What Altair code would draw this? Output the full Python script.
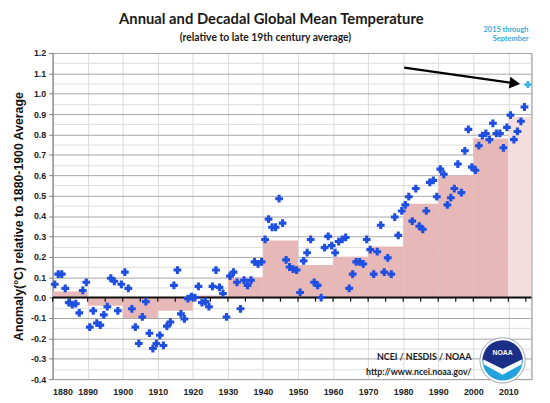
import altair as alt
import pandas as pd
import numpy as np

# ---------------- data ----------------
years = list(range(1880, 2015))
anomaly = [
    0.065, 0.115, 0.115, 0.045, -0.025, -0.035, -0.03, -0.075, 0.035, 0.075,
    -0.145, -0.065, -0.125, -0.135, -0.085, -0.045, 0.095, 0.08, -0.065, 0.065,
    0.125, 0.045, -0.055, -0.145, -0.225, -0.095, -0.02, -0.175, -0.25, -0.225,
    -0.185, -0.235, -0.14, -0.12, 0.06, 0.135, -0.08, -0.105, -0.005, 0.005,
    0.0, 0.055, -0.025, -0.02, -0.045, 0.055, 0.135, 0.05, 0.02, -0.095,
    0.105, 0.125, 0.075, -0.055, 0.085, 0.06, 0.085, 0.175, 0.165, 0.175,
    0.285, 0.385, 0.345, 0.345, 0.485, 0.365, 0.185, 0.15, 0.14, 0.135,
    0.025, 0.18, 0.22, 0.285, 0.075, 0.06, 0.0, 0.245, 0.3, 0.255,
    0.22, 0.275, 0.285, 0.295, 0.045, 0.115, 0.175, 0.175, 0.165, 0.285,
    0.235, 0.115, 0.225, 0.355, 0.125, 0.195, 0.115, 0.395, 0.305, 0.425,
    0.455, 0.495, 0.375, 0.535, 0.35, 0.335, 0.425, 0.565, 0.575, 0.495,
    0.63, 0.605, 0.455, 0.49, 0.535, 0.655, 0.515, 0.72, 0.825, 0.64,
    0.625, 0.745, 0.795, 0.805, 0.775, 0.855, 0.805, 0.805, 0.735, 0.835,
    0.895, 0.775, 0.815, 0.865, 0.935,
]
year_latest = [2015]
anomaly_latest = [1.045]

decade_start = [1880, 1890, 1900, 1910, 1920, 1930, 1940, 1950, 1960, 1970, 1980, 1990, 2000, 2010]
decade_end = [1890, 1900, 1910, 1920, 1930, 1940, 1950, 1960, 1970, 1980, 1990, 2000, 2010, 2016.6]
decade_mean = [0.03, -0.04, -0.10, -0.065, 0.01, 0.10, 0.28, 0.16, 0.20, 0.25, 0.46, 0.60, 0.78, 0.886]
decade_kind = ["full"] * 13 + ["partial"]

arrow_year = [1980.3, 2011.85]
arrow_value = [1.128, 1.051]

x_labels = list(range(1880, 2011, 10))
zero_ticks = list(range(1880, 2016, 5))

# ---------------- tables ----------------
pts = pd.DataFrame({"year": years, "value": anomaly})
pts["x"] = pts["year"] + 0.6
latest = pd.DataFrame({"year": year_latest, "value": anomaly_latest})
latest["x"] = latest["year"] + 0.6
dec = pd.DataFrame({"start": decade_start, "end": decade_end, "mean": decade_mean, "kind": decade_kind})
dec["zero"] = 0.0
arrow = pd.DataFrame({"x": arrow_year, "value": arrow_value, "order": [0, 1]})
arrow_head = arrow.iloc[[1]]
ticks = pd.DataFrame({"x": zero_ticks})
ticks["zero"] = 0.0
ticks["tick_end"] = -0.02
zero_df = pd.DataFrame({"zero": [0.0]})

W, H = 486, 331
xs = alt.Scale(domain=[1880, 2016.6], nice=False, zero=False)
ys = alt.Scale(domain=[-0.4, 1.2], nice=False, zero=False)

minor_test = "abs(datum.value*10 - round(datum.value*10)) > 0.01"
y_vals = [round(v, 2) for v in np.arange(-0.4, 1.2001, 0.05)]

y_axis = alt.Axis(
    values=y_vals,
    labelExpr=f"{minor_test} ? '' : replace(format(datum.value, '.1f'), '\u2212', '-')",
    labelOverlap=False,
    gridColor={"condition": {"test": minor_test, "value": "#dcdcdc"}, "value": "#a6a6a6"},
    tickColor={"condition": {"test": minor_test, "value": "transparent"}, "value": "#808080"},
    tickSize=4,
    domainColor="#808080",
    labelFont="Liberation Sans", labelFontWeight="bold", labelFontSize=9, labelColor="#222222",
    labelPadding=3,
    titleFont="Liberation Sans", titleFontWeight="bold", titleFontSize=12.5, titleColor="#111111",
    titlePadding=5,
)
x_axis = alt.Axis(
    values=x_labels, format="d", ticks=False, domain=False,
    labelOverlap=False,
    gridColor="#d9d9d9",
    labelFont="Liberation Sans", labelFontWeight="bold", labelFontSize=9, labelColor="#222222",
    labelPadding=9,
)
Y_TITLE = "Anomaly(°C) relative to 1880-1900 Average"


def X(field):
    return alt.X(field, scale=xs, axis=x_axis, title=None)


def Y(field):
    return alt.Y(field, scale=ys, axis=y_axis, title=Y_TITLE)


bars = alt.Chart(dec).mark_rect().encode(
    x=X("start:Q"),
    x2="end:Q",
    y=Y("mean:Q"),
    y2="zero:Q",
    color=alt.Color("kind:N", scale=alt.Scale(domain=["full", "partial"], range=["#e6b9b8", "#f4dedd"]), legend=None),
)

zero_line = alt.Chart(zero_df).mark_rule(color="#111111", strokeWidth=2).encode(y=Y("zero:Q"))

zero_tick_marks = alt.Chart(ticks).mark_rule(color="#111111", strokeWidth=1.2).encode(
    x=X("x:Q"),
    y=Y("zero:Q"),
    y2="tick_end:Q",
)

points = alt.Chart(pts).mark_point(shape="cross", filled=True, size=62, color="#1f4fe0", opacity=1).encode(
    x=X("x:Q"), y=Y("value:Q"),
)
latest_pt = alt.Chart(latest).mark_point(shape="cross", filled=True, size=50, color="#3ab4e6", opacity=1).encode(
    x=X("x:Q"), y=Y("value:Q"),
)

arrow_line = alt.Chart(arrow).mark_line(color="#000000", strokeWidth=2.2).encode(
    x=X("x:Q"), y=Y("value:Q"), order="order:O",
)
arrow_tip = alt.Chart(arrow_head).mark_point(shape="triangle-right", filled=True, size=150, color="#000000", opacity=1, angle=8).encode(
    x=X("x:Q"), y=Y("value:Q"),
)

one = alt.Data(values=[{}])


def label(text, x, y, size, color="#222222", weight="bold", align="center", font="Lato"):
    return alt.Chart(one).mark_text(
        text=text, font=font, fontSize=size, fontWeight=weight, color=color, align=align, baseline="middle"
    ).encode(x=alt.value(x), y=alt.value(y))


title = label("Annual and Decadal Global Mean Temperature", 222, -34, 15, color="#1a1a1a")
subtitle = label("(relative to late 19th century average)", 216, -15.5, 10.5, color="#1a1a1a")
note1 = label("2015 through", 483, -23, 7.5, color="#33a9dc", align="right")
note2 = label("September", 483, -14, 7.5, color="#33a9dc", align="right")
ncei1 = label("NCEI / NESDIS / NOAA", 425, 309, 9, color="#1a1a1a", align="right")
ncei2 = label("http://www.ncei.noaa.gov/", 425, 323.5, 9, color="#1a1a1a", align="right")

# NOAA logo (approximation)
cx, cy = 456.7, 312.0
logo_ring = alt.Chart(one).mark_arc(theta=0, theta2=6.2832, outerRadius=23, innerRadius=0,
                                    color="#ffffff", stroke="#9aa6b2", strokeWidth=1, x=cx, y=cy)
logo_bottom = alt.Chart(one).mark_arc(theta=1.5708, theta2=4.7124, outerRadius=20.5, color="#22a3dd", x=cx, y=cy)
logo_top = alt.Chart(one).mark_arc(theta=4.7124, theta2=7.854, outerRadius=20.5, color="#1b2f86", x=cx, y=cy)
logo_v = alt.Chart(one).mark_point(
    shape="M -1 -0.05 L 0 0.45 L 1 -0.05 L 1 0.2 L 0 0.75 L -1 0.2 Z",
    filled=True, color="#ffffff", opacity=1, size=1500, strokeWidth=0,
).encode(x=alt.value(cx), y=alt.value(cy))
logo_navy_v = alt.Chart(one).mark_point(
    shape="M -1 0 L 0 0.45 L 1 0 Z",
    filled=True, color="#1b2f86", opacity=1, size=1560, strokeWidth=0,
).encode(x=alt.value(cx), y=alt.value(cy - 0.5))
logo_txt = label("NOAA", cx, cy - 7, 7, color="#ffffff", font="Liberation Sans")

chart = alt.layer(
    bars, zero_line, zero_tick_marks, points, latest_pt, arrow_line, arrow_tip,
    title, subtitle, note1, note2, ncei1, ncei2,
    logo_ring, logo_bottom, logo_top, logo_navy_v, logo_v, logo_txt,
).properties(
    width=W, height=H,
    padding={"left": 45.3, "top": 42.7, "right": 10.7, "bottom": 21.3},
    autosize=alt.AutoSizeParams(type="none"),
    background="#ffffff",
).configure_view(stroke="#808080", strokeWidth=1)

chart.save("out.html", embed_options={"renderer": "svg", "actions": False})
